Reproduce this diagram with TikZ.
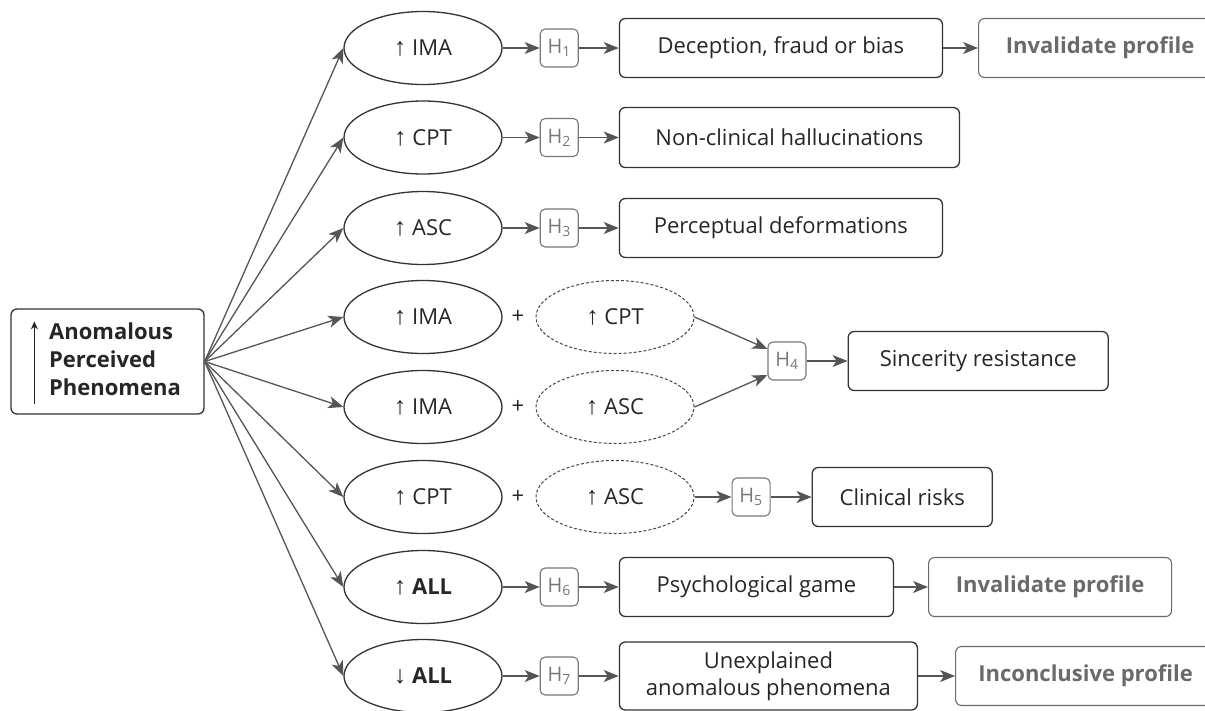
\documentclass[tikz,border=0pt]{standalone}
\usepackage{fontspec}
\setmainfont{Open Sans}
\newfontfamily\arrowfont{Liberation Sans}
\usepackage{tikz}
\usetikzlibrary{shapes, arrows, positioning, shapes.geometric, arrows.meta}

\definecolor{textdark}{HTML}{262626}
\definecolor{edgedark}{HTML}{333333}
\definecolor{linegray}{HTML}{555555}
\definecolor{hypgray}{HTML}{777777}
\definecolor{profgray}{HTML}{6A6A6A}

\newcommand{\boxfont}{\fontsize{22}{27}\selectfont}
\newcommand{\uparr}{{\arrowfont\fontsize{25}{27}\selectfont ↑}}
\newcommand{\downarr}{{\arrowfont\fontsize{25}{27}\selectfont ↓}}

\begin{document}
\begin{tikzpicture}[x=1pt, y=-1pt,
        every node/.style={font=\boxfont, text=textdark},
        cause/.style={
            ellipse, draw=edgedark, line width=1.3pt,
            minimum width=158pt, minimum height=73pt, inner sep=0pt
        },
        addon/.style={cause, draw=edgedark!90, line width=1pt, dash pattern=on 3pt off 2pt},
        hyp/.style={
            rectangle, rounded corners=5pt, draw=hypgray, line width=1.1pt,
            text=hypgray, font=\fontsize{20}{24}\selectfont,
            minimum width=38pt, minimum height=38pt, inner sep=0pt
        },
        outcome/.style={
            rectangle, rounded corners=6pt, draw=edgedark, line width=1.3pt,
            minimum height=59pt, inner sep=0pt, align=center
        },
        profile/.style={outcome, draw=profgray, line width=1.1pt, text=profgray, font=\boxfont\bfseries},
        arrow/.style={-{Stealth[length=15pt, width=12pt, inset=4pt]}, draw=linegray, line width=1.3pt}
    ]
        \useasboundingbox (0,0) rectangle (1205,710);

        % source
        \node[outcome, minimum width=193pt, minimum height=105pt,
              font=\fontsize{22}{28}\selectfont\bfseries] (apf) at (107.5,361.5)
            {\hspace*{15pt}\begin{tabular}{@{}l@{}}Anomalous\\Perceived\\Phenomena\end{tabular}};
        \draw[-{Stealth[length=8pt, width=7pt]}, line width=1.2pt, draw=textdark]
            ([xshift=24pt, yshift=11pt]apf.south west) -- ([xshift=24pt, yshift=-13pt]apf.north west);

        % single scales
        \node[cause] (ima1) at (423,48) {\uparr\ IMA};
        \node[hyp, right=37pt of ima1] (h1) {H\textsubscript{1}};
        \node[outcome, minimum width=323pt, right=40pt of h1] (deceit) {Deception, fraud or bias};
        \node[profile, minimum width=243pt, right=35pt of deceit] (invalid1) {Invalidate profile};

        \node[cause] (cpt1) at (423,137.5) {\uparr\ CPT};
        \node[hyp, right=37pt of cpt1] (h2) {H\textsubscript{2}};
        \node[outcome, minimum width=340pt, minimum height=60pt, right=40pt of h2] (halluc) {Non-clinical hallucinations};

        \node[cause] (asc1) at (423,228) {\uparr\ ASC};
        \node[hyp, right=37pt of asc1] (h3) {H\textsubscript{3}};
        \node[outcome, minimum width=323pt, right=40pt of h3] (deform) {Perceptual deformations};

        % combined scales
        \node[cause] (ima2) at (423,317) {\uparr\ IMA};
        \node (plus1) at (518,317) {+};
        \node[addon] (cpt2) at (615,317) {\uparr\ CPT};

        \node[cause] (ima3) at (423,407) {\uparr\ IMA};
        \node (plus2) at (518,407) {+};
        \node[addon] (asc2) at (615,407) {\uparr\ ASC};

        \node[hyp] (h4) at (787,361) {H\textsubscript{4}};
        \node[outcome, minimum width=260pt, right=41pt of h4] (sincere) {Sincerity resistance};

        \node[cause] (cpt3) at (423,497) {\uparr\ CPT};
        \node (plus3) at (518,497) {+};
        \node[addon] (asc3) at (615,497) {\uparr\ ASC};
        \node[hyp, right=37pt of asc3] (h5) {H\textsubscript{5}};
        \node[outcome, minimum width=180pt, right=41pt of h5] (clinic) {Clinical risks};

        % all scales
        \node[cause] (all1) at (423,587) {\uparr\ \textbf{ALL}};
        \node[hyp, right=37pt of all1] (h6) {H\textsubscript{6}};
        \node[outcome, minimum width=274pt, right=40pt of h6] (game) {Psychological game};
        \node[profile, minimum width=243pt, right=34pt of game] (invalid2) {Invalidate profile};

        \node[cause] (all2) at (423,676) {\downarr\ \textbf{ALL}};
        \node[hyp, right=37pt of all2] (h7) {H\textsubscript{7}};
        \node[outcome, minimum width=298pt, minimum height=68pt, right=40pt of h7] (unexpl) {Unexplained\\anomalous phenomena};
        \node[profile, minimum width=260pt, right=37pt of unexpl] (inconcl) {Inconclusive profile};

        % connectors
        \foreach \c in {ima1, cpt1, asc1, ima2, ima3, cpt3, all1, all2}
            \draw[arrow] (apf.east) -- (\c.west);

        \draw[arrow] (ima1) -- (h1);
        \draw[arrow] (h1) -- (deceit);
        \draw[arrow] (deceit) -- (invalid1);
        \draw[arrow] (cpt1) -- (h2);
        \draw[arrow] (h2) -- (halluc);
        \draw[arrow] (asc1) -- (h3);
        \draw[arrow] (h3) -- (deform);
        \draw[arrow] (cpt2.east) -- ([yshift=12pt]h4.west);
        \draw[arrow] (asc2.east) -- ([yshift=-14pt]h4.west);
        \draw[arrow] (h4) -- (sincere);
        \draw[arrow] (asc3) -- (h5);
        \draw[arrow] (h5) -- (clinic);
        \draw[arrow] (all1) -- (h6);
        \draw[arrow] (h6) -- (game);
        \draw[arrow] (game) -- (invalid2);
        \draw[arrow] (all2) -- (h7);
        \draw[arrow] (h7) -- (unexpl);
        \draw[arrow] (unexpl) -- (inconcl);
\end{tikzpicture}
\end{document}
